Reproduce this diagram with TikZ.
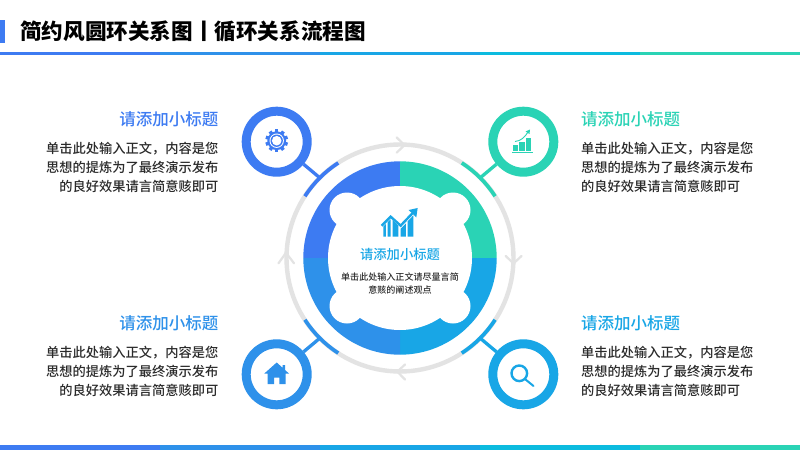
\documentclass[tikz,border=0pt]{standalone}
\usepackage{fontspec}
\setmainfont{Noto Sans CJK SC}
\newfontfamily\medfont{Noto Sans CJK SC Medium}
\definecolor{cblue}{HTML}{3D7BF2}
\definecolor{cgreen}{HTML}{2AD3B5}
\definecolor{cmid}{HTML}{2E91EA}
\definecolor{csky}{HTML}{18A6E6}
\definecolor{ccyan}{HTML}{0CBBDF}
\definecolor{cring}{HTML}{E3E3E3}
\definecolor{cink}{HTML}{2B2B2B}
\tikzset{
  iconring/.style={circle,draw=#1,line width=9pt,fill=white,minimum size=61pt,inner sep=0pt,outer sep=4.5pt},
  linker/.style={draw=#1,line width=3.3pt},
  bandarc/.style={draw=#1,line width=3.7pt},
  chev/.style={draw=cring,line width=2.2pt,line cap=round,line join=round},
  subhead/.style={font=\medfont\fontsize{16.5}{18}\selectfont,text=#1,inner sep=0pt},
  bodyleft/.style={font=\medfont\fontsize{13.25}{19.2}\selectfont,text=cink,align=right,inner sep=0pt,text width=180pt},
  bodyright/.style={font=\medfont\fontsize{13.25}{19.2}\selectfont,text=cink,align=left,inner sep=0pt,text width=180pt},
}
\begin{document}
\begin{tikzpicture}[x=1pt,y=-1pt]
\useasboundingbox (0,0) rectangle (800,450);
\fill[white] (0,0) rectangle (800,450);
% header
\fill[cblue] (0,20) rectangle (5,43);
\node[anchor=west,inner sep=0pt,font=\bfseries\fontsize{21.6}{24}\selectfont,text=black] (title) at (20,31) {简约风圆环关系图丨循环关系流程图};
\foreach \xa/\col in {0/cblue,160/cmid,320/csky,480/ccyan,640/cgreen}{
  \fill[\col] (\xa,52) rectangle (\xa+160,54.5);
  \fill[\col] (\xa,445) rectangle (\xa+160,450);
}
% outer ring
\coordinate (o) at (400,258);
\draw[cring,line width=4.4pt] (o) circle[radius=113.5pt];
\draw[chev] (396.7,137.5) -- (404.5,145) -- (396.7,152.7);
\draw[chev] (505.7,256) -- (513.5,263.5) -- (521.5,256);
\draw[chev] (405,364.5) -- (397.3,371.7) -- (405,379.5);
\draw[chev] (278.5,263.3) -- (286,252.7) -- (294,263.3);
% disc
\fill[cblue] (o) -- (303.3,258) arc[start angle=180,end angle=90,radius=96.7pt] -- cycle;
\fill[cgreen] (o) -- (400,161.3) arc[start angle=90,end angle=0,radius=96.7pt] -- cycle;
\fill[csky] (o) -- (496.7,258) arc[start angle=0,end angle=-90,radius=96.7pt] -- cycle;
\fill[cmid] (o) -- (400,354.7) arc[start angle=-90,end angle=-180,radius=96.7pt] -- cycle;
% white blob
\fill[white] (o) circle[radius=72pt];
\foreach \sx in {-1,1}\foreach \sy in {-1,1}
  \fill[white] (400+\sx*53,258+\sy*48) circle[radius=17.5pt];
% icon circles
\node[iconring=cblue] (c1) at (276.7,141.7) {};
\node[iconring=cgreen] (c2) at (523.3,141.7) {};
\node[iconring=cmid] (c3) at (276.7,374.3) {};
\node[iconring=csky] (c4) at (523.3,374.3) {};
% band arcs and connectors
\coordinate (a1) at (319.8,177.8);
\coordinate (a2) at (480.2,177.8);
\coordinate (a3) at (319.8,338.2);
\coordinate (a4) at (480.2,338.2);
\draw[linker=cblue] (c1) -- (a1);
\draw[linker=cgreen] (c2) -- (a2);
\draw[linker=cmid] (c3) -- (a3);
\draw[linker=csky] (c4) -- (a4);
\draw[bandarc=cblue] (o) ++(147:113.4pt) arc[start angle=147,end angle=123,radius=113.4pt];
\draw[bandarc=cgreen] (o) ++(57:113.4pt) arc[start angle=57,end angle=33,radius=113.4pt];
\draw[bandarc=csky] (o) ++(-33:113.4pt) arc[start angle=-33,end angle=-57,radius=113.4pt];
\draw[bandarc=cmid] (o) ++(-147:113.4pt) arc[start angle=-147,end angle=-123,radius=113.4pt];
% gear icon
\begin{scope}[shift={(276.7,140.7)}]
\foreach \a in {0,36,...,324}
  \fill[cblue,rotate=\a] (-1.7,-11.4) rectangle (1.7,0);
\fill[cblue] (0,0) circle[radius=9.4pt];
\fill[white] (0,0) circle[radius=7.2pt];
\fill[cblue] (0,0) circle[radius=6.2pt];
\fill[white] (0,0) circle[radius=4.8pt];
\end{scope}
% chart icon (green)
\begin{scope}[shift={(480,100)}]
\fill[cgreen] (32.7,45) rectangle (37.5,51);
\fill[cgreen] (39.2,41.7) rectangle (44.5,51);
\fill[cgreen] (46,38.3) rectangle (51.2,51);
\fill[cgreen] (31.5,51.8) rectangle (52.7,52.6);
\draw[cgreen,line width=.9pt] (35,41.5) .. controls (41,41) and (45,37) .. (48,32);
\fill[cgreen] (50,29.5) -- (49.5,34) -- (45.5,31.5) -- cycle;
\end{scope}
% house icon
\begin{scope}[shift={(230,330)}]
\fill[cmid] (34.3,43.5) -- (46.7,32.5) -- (52.6,37.8) -- (52.6,35) -- (55,35) -- (55,40) -- (59,43.5) -- (55.7,43.5) -- (55.7,54) -- (49.3,54) -- (49.3,47.7) -- (44,47.7) -- (44,54) -- (37.5,54) -- (37.5,43.5) -- cycle;
\end{scope}
% magnifier icon
\begin{scope}[shift={(480,330)}]
\draw[csky,line width=2.4pt] (39.3,43.3) circle[radius=7.8pt];
\draw[csky,line width=2pt,line cap=round] (45.3,49.3) -- (53.5,56);
\end{scope}
% texts left
\node[subhead=cblue,anchor=east] (h1) at (218.5,119.3) {请添加小标题};
\node[bodyleft,anchor=east] (b1) at (218.5,167.3) {单击此处输入正文，内容是您\\思想的提炼为了最终演示发布\\的良好效果请言简意赅即可};
\node[subhead=cmid,anchor=east] (h3) at (218.5,323.5) {请添加小标题};
\node[bodyleft,anchor=east] (b3) at (218.5,371.5) {单击此处输入正文，内容是您\\思想的提炼为了最终演示发布\\的良好效果请言简意赅即可};
% texts right
\node[subhead=cgreen,anchor=west] (h2) at (581,119.3) {请添加小标题};
\node[bodyright,anchor=west] (b2) at (581,167.3) {单击此处输入正文，内容是您\\思想的提炼为了最终演示发布\\的良好效果请言简意赅即可};
\node[subhead=csky,anchor=west] (h4) at (581,323.5) {请添加小标题};
\node[bodyright,anchor=west] (b4) at (581,371.5) {单击此处输入正文，内容是您\\思想的提炼为了最终演示发布\\的良好效果请言简意赅即可};
% center icon
\begin{scope}[shift={(270,130)},x=0.3333pt,y=-0.3333pt]
\draw[csky,line width=2.4pt,line join=miter] (335,287) -- (362,260) -- (392,287) -- (432,245);
\fill[csky] (443,234) -- (439,262) -- (416,240) -- cycle;
\fill[csky] (340,290) -- (348,282) -- (348,320) -- (340,320) -- cycle;
\fill[csky] (353,277) -- (362,268) -- (362,320) -- (353,320) -- cycle;
\fill[csky] (368,270) -- (385,287) -- (385,320) -- (368,320) -- cycle;
\fill[csky] (392,296) -- (408,280) -- (408,320) -- (392,320) -- cycle;
\fill[csky] (413,274) -- (430,256) -- (430,320) -- (413,320) -- cycle;
\end{scope}
\node[inner sep=0pt,font=\medfont\fontsize{13.3}{16}\selectfont,text=csky] (ch) at (400,254) {请添加小标题};
\node[inner sep=0pt,align=center,font=\medfont\fontsize{9.05}{13.3}\selectfont,text=cink] (cb) at (400,283.5) {单击此处输入正文请尽量言简\\意赅的阐述观点};
\end{tikzpicture}
\end{document}
